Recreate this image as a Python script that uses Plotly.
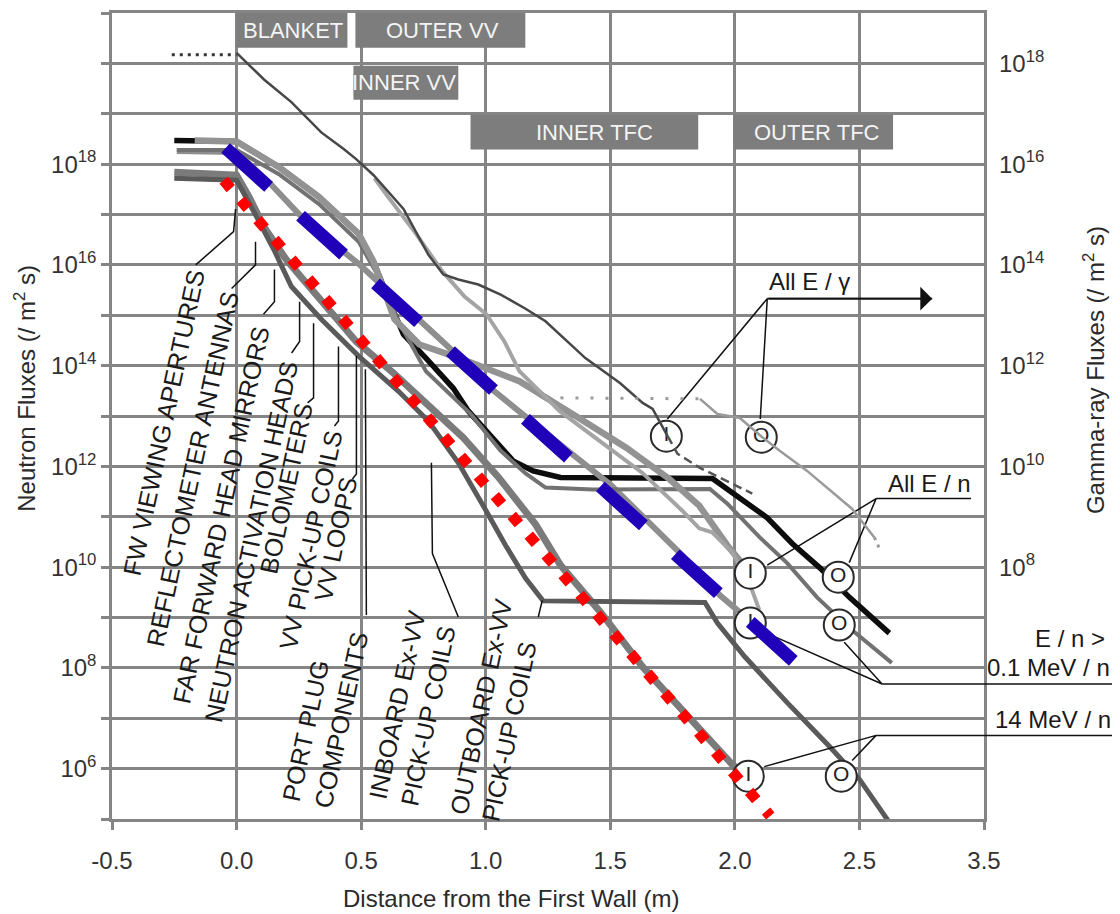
import plotly.graph_objects as go

FONT = "Liberation Sans, Arial, Helvetica, sans-serif"
GRID = "#858585"

# ---------------- axes ----------------
x_tickvals = [-0.5, 0.0, 0.5, 1.0, 1.5, 2.0, 2.5, 3.0]
x_ticktext = ["-0.5", "0.0", "0.5", "1.0", "1.5", "2.0", "2.5", "3.5"]
left_decades = list(range(5, 22))
left_labelled = [6, 8, 10, 12, 14, 16, 18]
right_labelled = [8, 10, 12, 14, 16, 18]

# ---------------- neutron fluxes (left axis): distance (m), log10 flux ----------------
alln_out_x = [-0.25, -0.17, 0.0, 0.17, 0.33, 0.49, 0.55, 0.63, 0.67, 0.76, 0.87, 0.93, 1.03, 1.11, 1.19, 1.30, 1.91, 2.02, 2.13, 2.23, 2.34, 2.46, 2.62]
alln_out_lg = [18.47, 18.47, 18.45, 17.94, 17.35, 16.62, 16.06, 15.08, 14.62, 14.15, 13.55, 13.10, 12.57, 12.11, 11.91, 11.78, 11.76, 11.38, 10.98, 10.47, 9.99, 9.40, 8.69]

alln_in_x = [-0.168, 0.0, 0.17, 0.33, 0.49, 0.55, 0.634, 0.734, 0.894, 1.135, 1.348, 1.564, 1.737, 1.857, 1.970, 2.062]
alln_in_lg = [18.47, 18.45, 17.94, 17.35, 16.62, 16.06, 14.92, 14.42, 14.15, 13.69, 13.04, 12.37, 11.75, 11.22, 10.43, 9.88]

upper_in_x = [0.554, 0.602, 0.714, 0.826, 0.915, 1.003, 1.075, 1.135, 1.296, 1.496, 1.629, 1.789, 1.857, 1.909, 1.990, 2.062, 2.098]
upper_in_lg = [17.72, 17.39, 16.66, 15.87, 15.37, 15.02, 14.48, 13.89, 13.10, 12.37, 11.87, 11.12, 10.77, 10.69, 10.29, 9.64, 9.15]

e01_out_x = [-0.24, 0.0, 0.17, 0.33, 0.49, 0.57, 0.65, 0.76, 0.94, 1.06, 1.16, 1.24, 1.43, 1.90, 1.97, 2.10, 2.21, 2.33, 2.47, 2.63]
e01_out_lg = [18.28, 18.28, 17.80, 17.21, 16.46, 15.77, 14.88, 13.89, 13.04, 12.31, 11.86, 11.58, 11.54, 11.55, 11.26, 10.59, 10.08, 9.40, 8.75, 8.10]

e01_in_x = [-0.24, 0.0, 0.13, 0.25, 0.37, 0.49, 0.61, 0.73, 0.87, 1.01, 1.18, 1.34, 1.50, 1.67, 1.79, 1.94, 2.08]
e01_in_lg = [18.26, 18.24, 17.64, 17.01, 16.50, 16.02, 15.47, 14.92, 14.28, 13.59, 12.90, 12.27, 11.64, 10.83, 10.23, 9.44, 8.85]

e14_in_x = [-0.25, 0.0, 0.05, 0.11, 0.20, 0.34, 0.48, 0.63, 0.77, 0.91, 1.05, 1.20, 1.30, 1.46, 1.63, 1.82, 1.99, 2.05]
e14_in_lg = [17.84, 17.78, 17.35, 16.75, 16.10, 15.27, 14.48, 13.85, 13.22, 12.57, 11.79, 10.85, 10.04, 9.11, 8.02, 7.01, 6.08, 5.83]

e14_out_x = [-0.25, 0.0, 0.07, 0.15, 0.22, 0.34, 0.49, 0.65, 0.77, 0.89, 0.99, 1.08, 1.16, 1.23, 1.88, 1.93, 2.04, 2.21, 2.38, 2.50, 2.63]
e14_out_lg = [17.72, 17.68, 17.05, 16.30, 15.57, 14.92, 14.19, 13.49, 12.90, 12.07, 11.22, 10.43, 9.78, 9.33, 9.30, 8.89, 8.22, 7.31, 6.44, 5.79, 4.86]

# ---------------- gamma fluxes (right axis): distance (m), log10 flux ----------------
gam_in_pre_x = [-0.26, 0.0]
gam_in_pre_lg = [18.17, 18.17]
gam_in_x = [0.00, 0.11, 0.22, 0.34, 0.43, 0.48, 0.55, 0.67, 0.77, 0.83, 0.89, 0.97, 1.06, 1.16, 1.24, 1.40, 1.54, 1.63, 1.67, 1.73]
gam_in_lg = [18.21, 17.68, 17.23, 16.63, 16.30, 16.10, 15.78, 15.11, 14.20, 13.81, 13.71, 13.61, 13.41, 13.13, 12.88, 12.15, 11.65, 11.26, 11.14, 10.60]
gam_in_tail_x = [1.73, 1.77, 1.86, 1.96, 2.07]
gam_in_tail_lg = [10.60, 10.25, 9.97, 9.72, 9.46]

gam_out_pre_x = [1.30, 1.86]
gam_out_pre_lg = [11.36, 11.34]
gam_out_x = [1.86, 1.93, 2.02, 2.11, 2.18, 2.29, 2.47, 2.56]
gam_out_lg = [11.34, 11.04, 10.96, 10.58, 10.31, 9.91, 9.16, 8.59]
gam_out_tail_x = [2.56, 2.58]
gam_out_tail_lg = [8.59, 8.37]

# ---------------- fitted overlays (left axis) ----------------
blue_fit_x = [-0.044, 2.266]
blue_fit_lg = [18.32, 8.00]
red_fit_x = [-0.052, 2.142]
red_fit_lg = [17.68, 5.06]

# ---------------- I / O markers (left axis) ----------------
io_text = ["I", "O", "I", "O", "I", "O", "I", "O"]
io_x = [1.725, 2.106, 2.062, 2.415, 2.062, 2.419, 2.054, 2.427]
io_lg = [12.60, 12.58, 9.88, 9.80, 8.89, 8.85, 5.85, 5.85]

# ---------------- regions ----------------
region_names = ["BLANKET", "OUTER VV", "INNER VV", "INNER TFC", "OUTER TFC"]
region_start = [0.0, 0.477, 0.469, 0.939, 1.994]
region_end = [0.445, 1.159, 0.890, 1.853, 2.635]
region_textx = [0.225, 0.826, 0.674, 1.436, 2.33]
region_row = [0, 0, 1, 2, 2]
row_top = [1.0, 0.9345, 0.8739]
row_bot = [0.957, 0.8925, 0.8307]

# ---------------- component labels (rotated) ----------------
comp_labels = ["FW VIEWING APERTURES", "REFLECTOMETER ANTENNAS", "FAR FORWARD HEAD MIRRORS",
               "NEUTRON ACTIVATION HEADS", "BOLOMETERS", "VV PICK-UP COILS", "VV LOOPS",
               "PORT PLUG<br>COMPONENTS", "INBOARD Ex-VV<br>PICK-UP COILS", "OUTBOARD Ex-VV<br>PICK-UP COILS"]
comp_x = [-0.293, -0.176, -0.062, 0.058, 0.199, 0.297, 0.399, 0.357, 0.71, 1.047]
comp_lg = [12.86, 11.94, 11.03, 10.50, 11.57, 10.54, 10.55, 7.03, 7.21, 7.17]

# pointer polylines (x in m, log10 left flux)
pointers = [
    ([-0.004, -0.012, -0.164], [17.11, 16.66, 16.00]),
    ([0.076, 0.076, -0.020], [16.46, 16.00, 15.53]),
    ([0.152, 0.152, 0.108], [15.91, 15.27, 15.02]),
    ([0.253, 0.253, 0.221], [15.27, 14.48, 14.25]),
    ([0.309, 0.309, 0.285], [14.84, 13.36, 13.26]),
    ([0.409, 0.409, 0.393], [14.38, 12.90, 12.80]),
    ([0.481, 0.481, 0.465], [14.19, 11.85, 11.75]),
    ([0.517, 0.521], [13.93, 9.05]),
    ([0.782, 0.786, 0.890], [12.07, 10.27, 9.01]),
    ([1.227, 1.211], [9.34, 9.01]),
    ([1.729, 2.130, 2.102], [12.94, 15.33, 12.94]),
    ([2.130, 2.567, 2.459], [10.04, 11.36, 10.09]),
    ([2.567, 2.948], [11.36, 11.36]),
    ([2.118, 2.591, 2.439], [8.71, 7.68, 8.51]),
    ([2.118, 2.567, 2.471], [6.04, 6.66, 6.16]),
]
gamma_arrow = ([2.130, 2.792], [15.33, 15.33])
side_junction_x = [2.591, 2.567]
side_junction_lg = [7.68, 6.66]

X0, X1 = -0.5, 3.0
L0, L1 = 5, 21


def pw(v):
    return [None if a is None else 10.0 ** a for a in v]


fig = go.Figure()


def curve(x, lg, color, width, dash=None, yaxis="y"):
    fig.add_trace(go.Scatter(x=x, y=pw(lg), mode="lines", yaxis=yaxis,
                             line=dict(color=color, width=width, dash=dash),
                             hoverinfo="skip", showlegend=False))


# neutron curves
curve(alln_out_x, alln_out_lg, "#0d0d0d", 5.5)
curve(e01_in_x, e01_in_lg, "#8e8e8e", 6)
curve(e01_out_x, e01_out_lg, "#727272", 4)
curve(alln_in_x, alln_in_lg, "#939393", 6.5)
curve(upper_in_x, upper_in_lg, "#a4a4a4", 4)
curve(e14_in_x, e14_in_lg, "#7b7b7b", 7)
curve(e14_out_x, e14_out_lg, "#5a5a5a", 5)

# gamma curves (right axis)
curve(gam_in_pre_x, gam_in_pre_lg, "#333333", 3, "3px,5px", "y2")
curve(gam_in_x, gam_in_lg, "#474747", 2.5, None, "y2")
curve(gam_in_tail_x, gam_in_tail_lg, "#555555", 2.5, "9px,5px", "y2")
curve(gam_out_pre_x, gam_out_pre_lg, "#9a9a9a", 3, "3px,12px", "y2")
curve(gam_out_x, gam_out_lg, "#9a9a9a", 2.5, None, "y2")
curve(gam_out_tail_x, gam_out_tail_lg, "#9a9a9a", 3, "3px,5px", "y2")

# pointer lines
for px_, pl_ in pointers:
    curve(px_, pl_, "#111111", 1.5)
curve(gamma_arrow[0], gamma_arrow[1], "#111111", 1.8)

# I / O markers
fig.add_trace(go.Scatter(x=io_x, y=pw(io_lg), mode="markers+text", text=io_text,
                         textposition="middle center",
                         textfont=dict(family=FONT, size=21, color="#222"),
                         marker=dict(size=31, color="white", line=dict(color="#2a2a2a", width=2)),
                         hoverinfo="skip", showlegend=False))

# fitted overlays
curve(blue_fit_x, blue_fit_lg, "#2000b8", 13, "58px,43px")
curve(red_fit_x, red_fit_lg, "#ff0000", 11, "11px,15px")

ann = []
shapes = []


def text_ann(x, y, text, size=24, color="#1a1a1a", xref="x", yref="y", angle=0, align="center"):
    ann.append(dict(x=x, y=y, xref=xref, yref=yref, text=text, showarrow=False, textangle=angle,
                    align=align, xanchor="center", yanchor="middle",
                    font=dict(family=FONT, size=size, color=color)))


for name, a, b, tx, r in zip(region_names, region_start, region_end, region_textx, region_row):
    shapes.append(dict(type="rect", xref="x", yref="paper", x0=a, x1=b, y0=row_bot[r], y1=row_top[r],
                       fillcolor="#7d7d7d", line=dict(width=0), layer="above"))
    text_ann(tx, (row_bot[r] + row_top[r]) / 2, name, 22, "#f4f4f4", "x", "paper")

for t, x, lg in zip(comp_labels, comp_x, comp_lg):
    text_ann(x, lg, t, 25, "#1a1a1a", "x", "y", -78, "left")

ann.append(dict(x=gamma_arrow[0][1], y=gamma_arrow[1][1], ax=gamma_arrow[0][0], ay=gamma_arrow[1][0],
                xref="x", yref="y", axref="x", ayref="y", text="", showarrow=True,
                arrowhead=1, arrowsize=2.2, arrowwidth=1.8, arrowcolor="#111"))

text_ann(2.30, 15.67, "All E / \u03b3")
text_ann(2.78, 11.66, "All E / n")


def to_paper_x(x):
    return (x - X0) / (X1 - X0)


def to_paper_y(lg):
    return (lg - L0) / (L1 - L0)


for jx, jl in zip(side_junction_x, side_junction_lg):
    shapes.append(dict(type="line", xref="paper", yref="paper", x0=to_paper_x(jx), x1=1.16,
                       y0=to_paper_y(jl), y1=to_paper_y(jl), line=dict(color="#111", width=1.5)))

text_ann(1.0986, 0.224, "E / n >", xref="paper", yref="paper")
text_ann(1.0745, 0.188, "0.1 MeV / n", xref="paper", yref="paper")
text_ann(1.079, 0.1236, "14 MeV / n", xref="paper", yref="paper")

text_ann(0.4576, -0.099, "Distance from the First Wall (m)", 24, "#2a2a2a", "paper", "paper")
text_ann(-0.0998, 0.535, "Neutron Fluxes (/ m<sup>2</sup> s)", 24, "#2a2a2a", "paper", "paper", -90)
text_ann(1.1255, 0.5575, "Gamma-ray Fluxes (/ m<sup>2</sup> s)", 24, "#2a2a2a", "paper", "paper", -90)

axis_common = dict(showgrid=True, gridcolor=GRID, gridwidth=2.5, zeroline=False,
                   showline=True, linecolor=GRID, linewidth=2.5, mirror=True,
                   ticks="outside", ticklen=8, tickwidth=2.5, tickcolor=GRID,
                   tickfont=dict(family=FONT, size=24, color="#333"))

fig.update_layout(
    width=1104, height=914,
    margin=dict(l=104, r=128, t=2, b=103),
    paper_bgcolor="white", plot_bgcolor="white",
    showlegend=False,
    xaxis=dict(range=[X0, X1], tickvals=x_tickvals, ticktext=x_ticktext, ticklabelstandoff=10,
               **axis_common),
    yaxis=dict(type="log", range=[L0, L1], tickvals=[10.0 ** k for k in left_decades],
               ticktext=[f"10<sup>{k}</sup>" if k in left_labelled else "" for k in left_decades],
               **axis_common),
    yaxis2=dict(type="log", range=[L0 - 2, L1 - 2], overlaying="y", side="right",
                tickvals=[10.0 ** k for k in right_labelled],
                ticktext=[f"10<sup>{k}</sup>" for k in right_labelled],
                showgrid=False, zeroline=False, showline=False, ticks="",
                ticklabelstandoff=14,
                tickfont=dict(family=FONT, size=24, color="#333")),
    annotations=ann,
    shapes=shapes,
)

fig.write_html("out.html")
